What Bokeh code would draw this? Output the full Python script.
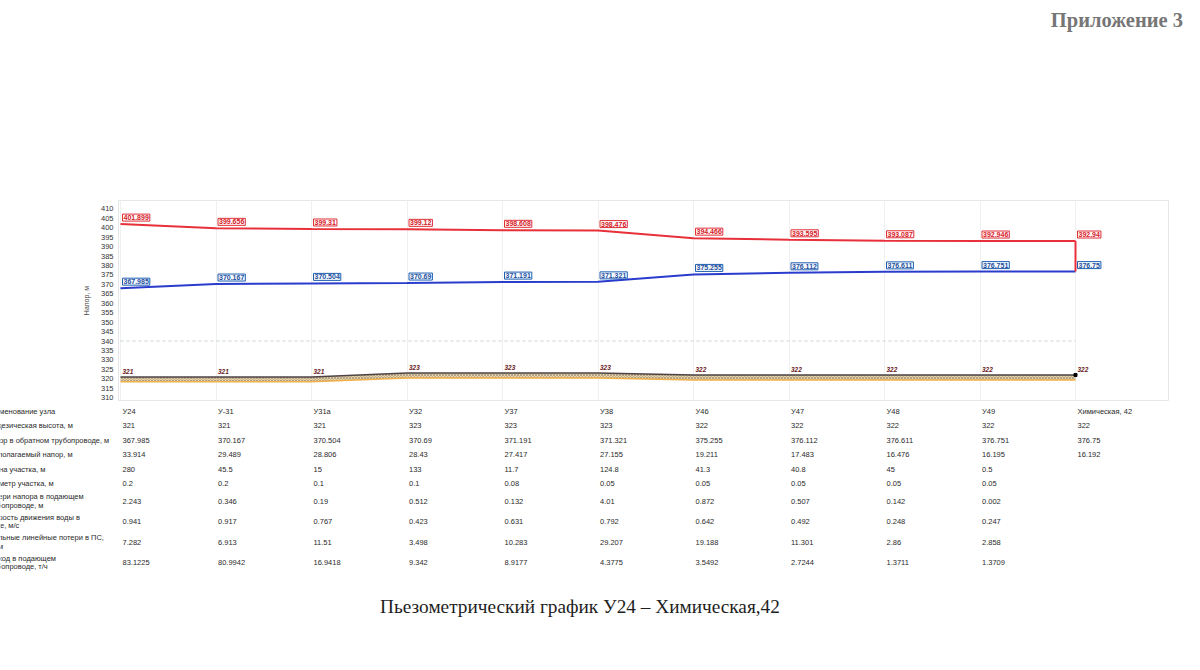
from bokeh.plotting import figure
from bokeh.models import Range1d, FixedTicker, Grid, Label, LabelSet, ColumnDataSource, Div
from bokeh.layouts import column
from bokeh.embed import file_html
from bokeh.resources import INLINE
from bokeh.core.properties import value

# ---------------- data ----------------
nodes = ["У24", "У-31", "У31а", "У32", "У37", "У38", "У46", "У47", "У48", "У49", "Химическая, 42"]
geo_height = [321, 321, 321, 323, 323, 323, 322, 322, 322, 322, 322]
supply_head = [401.899, 399.656, 399.31, 399.12, 398.608, 398.476, 394.466, 393.595, 393.087, 392.946, 392.94]
return_head = [367.985, 370.167, 370.504, 370.69, 371.191, 371.321, 375.255, 376.112, 376.611, 376.751, 376.75]
avail_head = [33.914, 29.489, 28.806, 28.43, 27.417, 27.155, 19.211, 17.483, 16.476, 16.195, 16.192]
seg_length = [280, 45.5, 15, 133, 11.7, 124.8, 41.3, 40.8, 45, 0.5, None]
seg_diam = [0.2, 0.2, 0.1, 0.1, 0.08, 0.05, 0.05, 0.05, 0.05, 0.05, None]
supply_loss = [2.243, 0.346, 0.19, 0.512, 0.132, 4.01, 0.872, 0.507, 0.142, 0.002, None]
velocity = [0.941, 0.917, 0.767, 0.423, 0.631, 0.792, 0.642, 0.492, 0.248, 0.247, None]
spec_loss = [7.282, 6.913, 11.51, 3.498, 10.283, 29.207, 19.188, 11.301, 2.86, 2.858, None]
flow = [83.1225, 80.9942, 16.9418, 9.342, 8.9177, 4.3775, 3.5492, 2.7244, 1.3711, 1.3709, None]
static_head = 340
y_ticks = list(range(310, 411, 5))

row_labels = [
    "Наименование узла",
    "Геодезическая высота, м",
    "Напор в обратном трубопроводе, м",
    "Располагаемый напор, м",
    "Длина участка, м",
    "Диаметр участка, м",
    "Потери напора в подающем\nтрубопроводе, м",
    "Скорость движения воды в\nтр-де, м/с",
    "Удельные линейные потери в ПС,\nмм/м",
    "Расход в подающем\nтрубопроводе, т/ч",
]
row_values = [nodes, geo_height, return_head, avail_head, seg_length, seg_diam,
              supply_loss, velocity, spec_loss, flow]

# ---------------- layout constants ----------------
W = 1200
X0 = 120.0      # canvas px of first node
DX = 95.5       # px between nodes
FRAME_L, FRAME_R = 118, 1168
idx = list(range(len(nodes)))
FONT = value("Liberation Sans")

# ---------------- chart ----------------
p = figure(width=W, height=368,
           x_range=Range1d((FRAME_L - X0) / DX, (FRAME_R - X0) / DX),
           y_range=Range1d(308.5, 414.4),
           x_axis_location=None, output_backend="svg", toolbar_location=None,
           min_border_left=FRAME_L, min_border_right=W - FRAME_R,
           min_border_top=160, min_border_bottom=8, margin=0)
p.frame_align = False
p.background_fill_color = "white"
p.border_fill_color = "white"
p.outline_line_color = "#e4e6e8"
p.ygrid.grid_line_color = None
p.add_layout(Grid(dimension=0, ticker=FixedTicker(ticks=idx),
                  grid_line_color="#eef0f2", grid_line_width=1))

ax = p.yaxis[0]
ax.ticker = FixedTicker(ticks=y_ticks)
ax.axis_line_color = None
ax.major_tick_line_color = None
ax.minor_tick_line_color = None
ax.major_tick_out = 0
ax.major_tick_in = 0
ax.minor_tick_out = 0
ax.minor_tick_in = 0
ax.major_label_text_font_size = "7.5px"
ax.major_label_text_color = "#333333"
ax.major_label_text_font = "Liberation Sans"
ax.major_label_standoff = 5
ax.axis_label = "Напор, м"
ax.axis_label_text_font_size = "7px"
ax.axis_label_text_font_style = "normal"
ax.axis_label_text_font = "Liberation Sans"
ax.axis_label_text_color = "#444444"
ax.axis_label_standoff = 8

# static head dashed line
p.line(x=[idx[0], idx[-1]], y=[static_head, static_head], line_color="#c9d3d3",
       line_width=1, line_dash="3 3")

# ground band
band_depth = 2.6
ground_low = [g - band_depth for g in geo_height]
p.varea(x=idx, y1=ground_low, y2=geo_height, fill_color="#e9d4a4",
        hatch_pattern="x", hatch_color="#8c8078", hatch_scale=3, hatch_weight=0.6)
p.line(x=idx, y=ground_low, line_color="#f0b04a", line_width=1.5)
p.line(x=idx, y=geo_height, line_color="#4e4444", line_width=1.5)
p.scatter(x=[idx[-1]], y=[geo_height[-1]], marker="square", size=3, color="black")

# head lines
p.line(x=idx, y=supply_head, line_color="#e8303a", line_width=2)
p.line(x=idx, y=return_head, line_color="#2a3ccc", line_width=2)
p.segment(x0=[idx[-1]], y0=[supply_head[-1]], x1=[idx[-1]], y1=[return_head[-1]],
          line_color="#e8303a", line_width=2)

# value boxes
for series, tcol, fcol, bcol in ((supply_head, "#d42028", "#fffafa", "#e03038"),
                                 (return_head, "#1f4f9c", "#f6fbff", "#1f5fb0")):
    for i, v in zip(idx, series):
        p.add_layout(Label(x=i, y=v, text=str(v), x_offset=2, y_offset=3,
                           text_font_size="7px", text_font_style="bold",
                           text_font="Liberation Sans",
                           text_color=tcol, background_fill_color=fcol,
                           border_line_color=bcol, border_line_width=1, padding=1))

src_g = ColumnDataSource(dict(x=idx, y=geo_height, t=[str(v) for v in geo_height]))
p.add_layout(LabelSet(x="x", y="y", text="t", source=src_g, x_offset=2, y_offset=3,
                      text_font_size="6.5px", text_font_style="bold italic", text_font=FONT,
                      text_color="#6a1c22"))

# ---------------- table ----------------
TH = 172
T_TOP = 408     # page y where the table starts
t = figure(width=W, height=TH,
           x_range=Range1d(-X0 / DX, (W - X0) / DX), y_range=Range1d(TH, 0),
           x_axis_location=None, y_axis_location=None, output_backend="svg",
           toolbar_location=None, min_border_left=0, min_border_right=0,
           min_border_top=0, min_border_bottom=0, margin=0)
t.frame_align = False
t.background_fill_color = "white"
t.border_fill_color = "white"
t.outline_line_color = None
t.grid.visible = False

ROW_H = {1: 14.5, 2: 20.5}
lines = [lab.count("\n") + 1 for lab in row_labels]
row_y = []
yy = 410.5 - T_TOP
for k, n in enumerate(lines):
    if k > 0:
        yy += (ROW_H[lines[k - 1]] + ROW_H[n]) / 2
    row_y.append(yy)

LABEL_X = (-15 - X0) / DX
t.text(x=[LABEL_X] * len(row_labels), y=row_y, text=row_labels,
       text_font=FONT, text_font_size="7.5px", text_color="#2a2a2a",
       text_align="left", text_baseline="middle", text_line_height=0.95)

cx, cy, ct = [], [], []
for r, vals in enumerate(row_values):
    for i, v in enumerate(vals):
        if v is None:
            continue
        cx.append(idx[i]); cy.append(row_y[r]); ct.append(str(v))
t.text(x=cx, y=cy, text=ct, x_offset=2, text_font=FONT, text_font_size="7.5px",
       text_color="#2a2a2a", text_align="left", text_baseline="middle")

# ---------------- header & caption ----------------
header = Div(text='<div style="font-family:\'Liberation Serif\';font-weight:bold;'
                  'font-size:20.5px;line-height:22px;color:#767676;text-align:right;'
                  'width:1183px;padding-top:9px;">Приложение 3</div>',
             width=W, height=40, margin=0)
caption = Div(text='<div style="font-family:\'Liberation Serif\';font-size:19.3px;'
                   'line-height:21px;color:#1e1e1e;text-align:center;width:1160px;'
                   'padding-top:16px;">Пьезометрический график У24 – Химическая,42</div>',
              width=W, height=50, margin=0)

layout = column(header, p, t, caption, spacing=0, margin=0)
open("out.html", "w").write(file_html(layout, INLINE))
